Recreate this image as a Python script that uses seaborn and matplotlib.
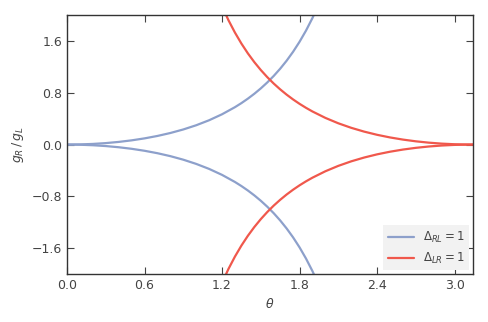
import numpy as np
import pandas as pd
import matplotlib
matplotlib.use("Agg")
import matplotlib.pyplot as plt
import seaborn as sns

# theta values and g_R/g_L
theta_rl = [0.0, 0.1, 0.2, 0.3, 0.4, 0.5, 0.6, 0.7, 0.8, 0.9, 1.0,
            1.1, 1.2, 1.3, 1.35, 1.4, 1.45, 1.5, 1.55, 1.6, 1.65, 1.7, 1.75,
            1.8, 1.85, 1.9, 1.95, 2.0]
ratio_rl = [0.0, 0.0025, 0.0101, 0.0228, 0.0411, 0.0652, 0.0957, 0.1333,
            0.1788, 0.2334, 0.2985, 0.3759, 0.4681, 0.5779, 0.6407, 0.7095,
            0.7849, 0.8679, 0.9593, 1.0602, 1.1719, 1.2958, 1.4338, 1.5880,
            1.7609, 1.9555, 2.1755, 2.4255]

theta_lr = [1.1, 1.15, 1.2, 1.25, 1.3, 1.35, 1.4, 1.45, 1.5, 1.55, 1.6,
            1.65, 1.7, 1.75, 1.8, 1.85, 1.9, 2.0, 2.1, 2.2,
            2.3, 2.4, 2.5, 2.6, 2.7, 2.8, 2.9, 3.0, 3.1, 3.1416]
ratio_lr = [2.660, 2.3811, 2.1365, 1.9210, 1.7304, 1.5608, 1.4095, 1.2740,
            1.1522, 1.0425, 0.9432, 0.8534, 0.7717, 0.6974, 0.6297, 0.5679,
            0.5114, 0.4123, 0.3290, 0.2590, 0.2003, 0.1511, 0.1104, 0.0771,
            0.0504, 0.0297, 0.0147, 0.0050, 0.0004, 0.0]

labels = [r"$\mathit{\Delta}_{RL}=1$", r"$\mathit{\Delta}_{LR}=1$"]
colors = ["#8da0cb", "#f0584c"]
xticks = [0.0, 0.6, 1.2, 1.8, 2.4, 3.0]
yticks = [-1.6, -0.8, 0.0, 0.8, 1.6]

sns.set_style("ticks", {"xtick.direction": "in", "ytick.direction": "in"})
plt.rcParams.update({
    "font.family": ["DejaVu Sans"],
    "xtick.top": True, "ytick.right": True,
    "xtick.color": "#444444", "ytick.color": "#444444",
    "axes.edgecolor": "#333333",
    "xtick.major.size": 5, "ytick.major.size": 5,
    "axes.linewidth": 1.0,
})

fig = plt.figure(figsize=(4.89, 3.22), dpi=100)
ax = fig.add_axes([0.137, 0.149, 0.830, 0.804])

a = np.array(ratio_rl)
b = np.array(ratio_lr)
sns.lineplot(x=theta_rl, y=a, ax=ax, color=colors[0], lw=1.6, label=labels[0], sort=False)
sns.lineplot(x=theta_rl, y=-a, ax=ax, color=colors[0], lw=1.6, sort=False)
sns.lineplot(x=theta_lr, y=b, ax=ax, color=colors[1], lw=1.6, label=labels[1], sort=False)
sns.lineplot(x=theta_lr, y=-b, ax=ax, color=colors[1], lw=1.6, sort=False)

ax.set_xlim(0, np.pi)
ax.set_ylim(-2, 2)
ax.set_xticks(xticks)
ax.set_yticks(yticks)
ax.set_xticklabels([f"{v:.1f}" for v in xticks])
ax.set_yticklabels([f"{v:.1f}".replace("-", "\u2212") for v in yticks])
ax.tick_params(labelsize=9, labelcolor="#444444")
ax.set_xlabel(r"$\theta$", fontsize=9, color="#444444")
ax.set_ylabel(r"$g_R\,/\,g_L$", fontsize=9, color="#444444")

leg = ax.legend(loc="lower right", fontsize=8.5, frameon=True, fancybox=False,
                facecolor="#f2f2f2", edgecolor="none", framealpha=1.0,
                handlelength=2.2, borderaxespad=0.3)
for t in leg.get_texts():
    t.set_color("#444444")

fig.savefig("out.png", dpi=100)
